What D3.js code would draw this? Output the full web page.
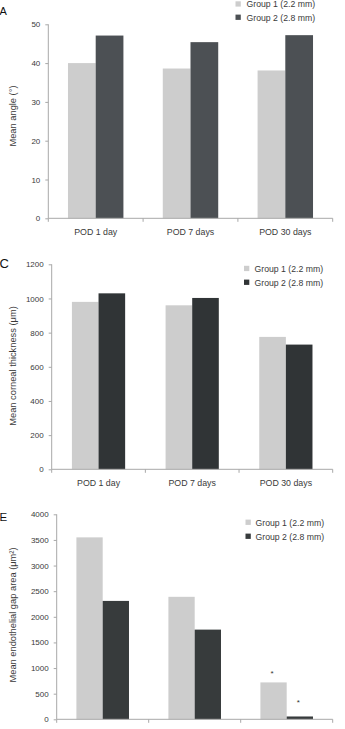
<!DOCTYPE html>
<html>
<head>
<meta charset="utf-8">
<script src="https://cdn.jsdelivr.net/npm/d3@7/dist/d3.min.js"></script>
<style>
  html, body { margin: 0; padding: 0; background: #fff; }
  svg { display: block; }
  text { font-family: "Liberation Sans", Arial, sans-serif; }
</style>
</head>
<body>
<script>
// ---- Data ----
const categories = ["POD 1 day", "POD 7 days", "POD 30 days"];
const groups = ["Group 1 (2.2 mm)", "Group 2 (2.8 mm)"];

const angleG1 = [40, 38.6, 38.1];
const angleG2 = [47.1, 45.4, 47.2];
const angleTicks = [0, 10, 20, 30, 40, 50];

const thicknessG1 = [980, 960, 775];
const thicknessG2 = [1030, 1003, 730];
const thicknessTicks = [0, 200, 400, 600, 800, 1000, 1200];

const gapG1 = [3550, 2390, 720];
const gapG2 = [2310, 1750, 55];
const gapTicks = [0, 500, 1000, 1500, 2000, 2500, 3000, 3500, 4000];
const gapSignificant = [[false, false], [false, false], [true, true]];

// ---- Layout ----
const W = 345, H = 729;
const svg = d3.select("body").append("svg").attr("width", W).attr("height", H);

const panels = [
  { letter: "A", letterY: 15, letterSize: 11,
    g1: angleG1, g2: angleG2, ticks: angleTicks, max: 50,
    x0: 48.3, x1: 332.7, y0: 218.3, y1: 24.3, pad: 0.71,
    g2color: "#4c5054",
    title: "Mean angle (°)", titleY: 116,
    legendSq: 235.5, legendText: 246.5, legendRows: [4, 17.3],
    showX: true, stars: null },
  { letter: "C", letterY: 268, letterSize: 13,
    g1: thicknessG1, g2: thicknessG2, ticks: thicknessTicks, max: 1200,
    x0: 51.7, x1: 332.7, y0: 469.3, y1: 264.3, pad: 0.76,
    g2color: "#303436",
    title: "Mean corneal thickness (μm)", titleY: 366,
    legendSq: 244, legendText: 254.5, legendRows: [268.5, 282.3],
    showX: true, stars: null },
  { letter: "E", letterY: 521, letterSize: 11.5,
    g1: gapG1, g2: gapG2, ticks: gapTicks, max: 4000,
    x0: 56.7, x1: 332.7, y0: 719.3, y1: 514.3, pad: 0.75,
    g2color: "#373b3c",
    title: "Mean endothelial gap area (μm²)", titleY: 615,
    legendSq: 245.5, legendText: 255.5, legendRows: [522.3, 536.3],
    showX: false, stars: gapSignificant }
];

const g1color = "#cdcdcd";
const axisColor = "#a8a8a8";
const textColor = "#3a3a3a";

panels.forEach(p => {
  const g = svg.append("g");
  const x = d3.scaleBand().domain(categories).range([p.x0, p.x1]).paddingInner(0).paddingOuter(0);
  const xs = d3.scaleBand().domain(groups).range([0, x.bandwidth()]).paddingInner(0).paddingOuter(p.pad);
  const y = d3.scaleLinear().domain([0, p.max]).range([p.y0, p.y1]);

  const rows = categories.map((c, i) => ({ c, i, vals: [p.g1[i], p.g2[i]] }));

  // bars
  const cat = g.selectAll("g.cat").data(rows).join("g")
    .attr("transform", d => `translate(${x(d.c)},0)`);
  cat.selectAll("rect").data(d => d.vals.map((v, k) => ({ v, k, i: d.i }))).join("rect")
    .attr("x", d => xs(groups[d.k]))
    .attr("width", xs.bandwidth())
    .attr("y", d => y(d.v))
    .attr("height", d => y(0) - y(d.v))
    .attr("fill", d => d.k === 0 ? g1color : p.g2color);

  if (p.stars) {
    cat.selectAll("text.star").data(d => d.vals.map((v, k) => ({ v, k, i: d.i }))
        .filter(d => p.stars[d.i][d.k])).join("text")
      .attr("class", "star")
      .attr("x", d => xs(groups[d.k]) + xs.bandwidth() / 2 - 1.5)
      .attr("y", d => y(d.v) - (d.k === 0 ? 6 : 11))
      .attr("text-anchor", "middle")
      .attr("font-size", 8)
      .attr("fill", "#333")
      .text("*");
  }

  // y axis
  const ya = g.append("g").attr("transform", `translate(${p.x0},0)`)
    .call(d3.axisLeft(y).tickValues(p.ticks).tickSize(3).tickPadding(5).tickFormat(d3.format("d")));
  ya.select(".domain").attr("stroke", axisColor).attr("d", `M0,${p.y0}V${p.y1}`);
  ya.selectAll(".tick line").attr("stroke", axisColor);
  ya.selectAll(".tick text").attr("fill", textColor).attr("font-size", 8)
    .attr("font-family", "Liberation Sans, Arial, sans-serif");

  // x axis
  const xa = g.append("g").attr("transform", `translate(0,${p.y0})`)
    .call(d3.axisBottom(x).tickSize(0).tickPadding(10.5));
  xa.select(".domain").attr("stroke", axisColor).attr("d", `M${p.x0},0H${p.x1}`);
  xa.selectAll(".tick text").attr("fill", textColor).attr("font-size", 8.8)
    .attr("font-family", "Liberation Sans, Arial, sans-serif")
    .style("display", p.showX ? null : "none");
  // boundary ticks
  const bounds = [p.x0].concat(categories.map(c => x(c) + x.bandwidth()));
  xa.selectAll("line.bnd").data(bounds).join("line")
    .attr("x1", d => d).attr("x2", d => d).attr("y1", 0).attr("y2", 3.5)
    .attr("stroke", axisColor);

  // y title
  g.append("text")
    .attr("transform", `translate(16,${p.titleY}) rotate(-90)`)
    .attr("text-anchor", "middle")
    .attr("font-size", 9.3)
    .attr("fill", textColor)
    .text(p.title);

  // panel letter
  g.append("text")
    .attr("x", -0.5).attr("y", p.letterY)
    .attr("font-size", p.letterSize)
    .attr("fill", "#111")
    .text(p.letter);

  // legend
  const lg = g.append("g");
  groups.forEach((name, k) => {
    lg.append("rect")
      .attr("x", p.legendSq).attr("y", p.legendRows[k] - 2.7)
      .attr("width", 5.3).attr("height", 5.3)
      .attr("fill", k === 0 ? g1color : p.g2color);
    lg.append("text")
      .attr("x", p.legendText).attr("y", p.legendRows[k] + 3.2)
      .attr("font-size", 8.7)
      .attr("fill", textColor)
      .text(name);
  });
});
</script>
</body>
</html>
